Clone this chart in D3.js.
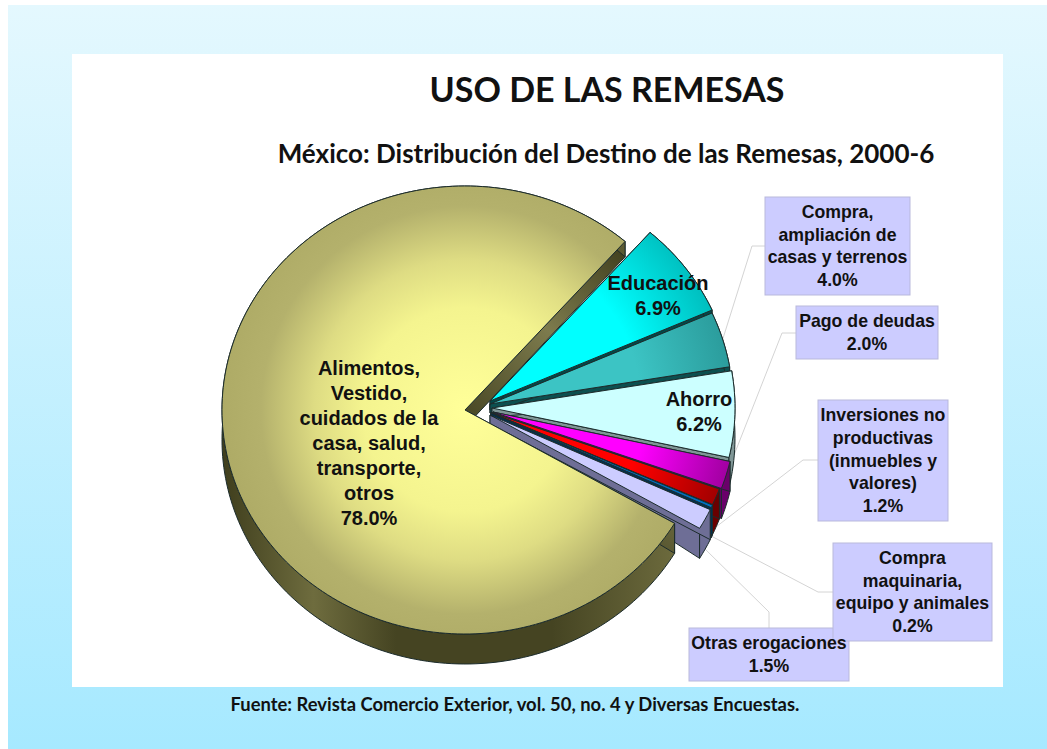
<!DOCTYPE html>
<html>
<head>
<meta charset="utf-8">
<script src="https://cdn.jsdelivr.net/npm/d3@7"></script>
<style>
  html, body { margin: 0; padding: 0; background: #fff; overflow: hidden; }
  svg { display: block; }
  text { font-family: "Liberation Sans", Arial, sans-serif; fill: #111; }
</style>
</head>
<body>
<svg id="chart" width="1047" height="749"></svg>
<script>
const title = "USO DE LAS REMESAS";
const subtitle = "México: Distribución del Destino de las Remesas, 2000-6";
const source = "Fuente: Revista Comercio Exterior, vol. 50, no. 4 y Diversas Encuestas.";

// in drawing order, clockwise from the edge of the big slice
const categories = ["Educación", "Compra, ampliación de casas y terrenos", "Ahorro", "Pago de deudas",
    "Inversiones no productivas (inmuebles y valores)", "Compra maquinaria, equipo y animales",
    "Otras erogaciones", "Alimentos, Vestido, cuidados de la casa, salud, transporte, otros"];
const values = [6.9, 4.0, 6.2, 2.0, 1.2, 0.2, 1.5, 78.0];
const valueLabels = ["6.9%", "4.0%", "6.2%", "2.0%", "1.2%", "0.2%", "1.5%", "78.0%"];
const labelLines = [
    ["Educación"],
    ["Compra,", "ampliación de", "casas y terrenos"],
    ["Ahorro"],
    ["Pago de deudas"],
    ["Inversiones no", "productivas", "(inmuebles y", "valores)"],
    ["Compra", "maquinaria,", "equipo y animales"],
    ["Otras erogaciones"],
    ["Alimentos,", "Vestido,", "cuidados de la", "casa, salud,", "transporte,", "otros"]
];

const topColors = ["#00ffff", "#3cc4c4", "#ccffff", "#ff00ff", "#ff0000", "#0070c0", "#ccccff", "#ffff99"];
const edgeColors = ["#00bcbc", "#2b9c9c", "#ccffff", "#a000a0", "#a00000", "#0070c0", "#ccccff", "#aeab66"];
const wallColors = ["#004a4a", "#0c4f4f", "#7f9696", "#6a006a", "#6a0000", "#003050", "#6e6e96", "#4d4c27"];

// where each slice's point sits once pulled out of the pie
const apexX = [490, 490, 492, 493, 491, 491, 490, 465];
const apexY = [401, 404, 408, 412, 412.5, 413, 415, 410];
const apexDepth = [9, 9, 9, 9, 9, 9, 9, 17];

const rx = 243, ry = 224;
const startDeg = 41.2;

// label boxes, text anchored in the box middle; elbow is where the leader bends
const boxes = [
    null,
    { x: 765, y: 197, w: 145, h: 98, elbow: [752, 246], end: [765, 246], depth: 0 },
    null,
    { x: 796, y: 306, w: 142, h: 53, elbow: [782, 333], end: [796, 333], depth: 0 },
    { x: 818, y: 400, w: 130, h: 121, elbow: [803, 460], end: [818, 460], depth: 1 },
    { x: 833, y: 543, w: 159, h: 98, elbow: [818, 592], end: [833, 592], depth: 1 },
    { x: 689, y: 628, w: 160, h: 53, elbow: [769, 612], end: [769, 628], depth: 1 },
    null
];
// labels printed on the slices themselves: x, y of the first line
const inside = [
    { x: 658, y: 290 }, null, { x: 699, y: 406 }, null, null, null, null, { x: 369, y: 375 }
];

const svg = d3.select("#chart");
const defs = svg.append("defs");

const bg = defs.append("linearGradient").attr("id", "bg").attr("x1", 0).attr("y1", 0).attr("x2", 0).attr("y2", 1);
bg.append("stop").attr("offset", 0).attr("stop-color", "#e4f8fe");
bg.append("stop").attr("offset", 1).attr("stop-color", "#a6e9ff");

svg.append("rect").attr("x", 8).attr("y", 5).attr("width", 1039).attr("height", 744).attr("fill", "url(#bg)");
svg.append("rect").attr("x", 72).attr("y", 54).attr("width", 931).attr("height", 633).attr("fill", "#fff");

svg.append("text").attr("x", 607).attr("y", 102).attr("text-anchor", "middle")
    .style("font-family", "Lato").style("font-weight", 700).style("font-size", "34px").text(title);
svg.append("text").attr("x", 606).attr("y", 163).attr("text-anchor", "middle")
    .style("font-family", "Lato").style("font-weight", 700).style("font-size", "26px").text(subtitle);
svg.append("text").attr("x", 515).attr("y", 711).attr("text-anchor", "middle")
    .style("font-family", "Lato").style("font-weight", 700).style("font-size", "18.4px").text(source);

const pie = d3.pie().sort(null)
    .startAngle(startDeg * Math.PI / 180)
    .endAngle((startDeg + 360) * Math.PI / 180);
const slices = pie(values).map((d, i) => ({ ...d, i }));

const sx = d3.scaleLinear().domain([-1, 1]).range([-rx, rx]);
const sy = d3.scaleLinear().domain([-1, 1]).range([ry, -ry]);

// unit radius r at angle a, clockwise from the top
function topPoint(i, a, r) {
    return [apexX[i] + sx(r * Math.sin(a)), apexY[i] + sy(r * Math.cos(a))];
}
// the wall is shallower along the back of the pie
function wallDepth(i, a, r) {
    return apexDepth[i] + r * (30 - apexDepth[i] - 19.5 * Math.max(0, Math.cos(a)));
}
function bottomPoint(i, a, r) {
    const p = topPoint(i, a, r);
    return [p[0], p[1] + wallDepth(i, a, r)];
}

const line = d3.line();
function arcAngles(d) {
    return d3.range(0, 1.0001, 1 / Math.max(4, Math.ceil((d.endAngle - d.startAngle) * 40)))
        .map(t => d.startAngle + t * (d.endAngle - d.startAngle));
}
function topShape(d) {
    return line([[apexX[d.i], apexY[d.i]], ...arcAngles(d).map(a => topPoint(d.i, a, 1))]) + "Z";
}
function wallShape(d) {
    const as = arcAngles(d);
    return line([...as.map(a => topPoint(d.i, a, 1)), ...as.slice().reverse().map(a => bottomPoint(d.i, a, 1))]) + "Z";
}
function edgeFace(d, a) {
    return line([[apexX[d.i], apexY[d.i]], topPoint(d.i, a, 1), bottomPoint(d.i, a, 1), bottomPoint(d.i, a, 0)]) + "Z";
}

// radial fill for each slice, around its own point
const bigStops = [[0, "#ffff99"], [0.42, "#f4f48f"], [0.62, "#dedc83"], [0.84, "#b4b16c"], [1, "#aeab66"]];
slices.forEach(d => {
    const g = defs.append("radialGradient").attr("id", "top" + d.i)
        .attr("gradientUnits", "userSpaceOnUse")
        .attr("cx", apexX[d.i]).attr("cy", apexY[d.i]).attr("r", rx);
    const stops = d.i === 7 ? bigStops : [[0, topColors[d.i]], [0.62, topColors[d.i]], [1, edgeColors[d.i]]];
    stops.forEach(s => g.append("stop").attr("offset", s[0]).attr("stop-color", s[1]));
});
const wallGrad = defs.append("linearGradient").attr("id", "wallBig")
    .attr("gradientUnits", "userSpaceOnUse").attr("x1", 222).attr("x2", 680).attr("y1", 0).attr("y2", 0);
[[0, "#3f3e1d"], [0.2, "#6e6c3e"], [0.38, "#454422"], [0.72, "#454422"], [1, "#6e6c3e"]].forEach(s =>
    wallGrad.append("stop").attr("offset", s[0]).attr("stop-color", s[1]));
const faceGrad = defs.append("linearGradient").attr("id", "faceBig")
    .attr("gradientUnits", "userSpaceOnUse").attr("x1", 465).attr("y1", 410).attr("x2", 623).attr("y2", 243);
[[0, "#4a4926"], [0.5, "#7d7b4d"], [1, "#3f3e1d"]].forEach(s =>
    faceGrad.append("stop").attr("offset", s[0]).attr("stop-color", s[1]));

// leader lines sit behind the pie
slices.forEach(d => {
    const b = boxes[d.i];
    if (!b) return;
    const mid = (d.startAngle + d.endAngle) / 2;
    const start = b.depth ? bottomPoint(d.i, mid, 1) : topPoint(d.i, mid, 1);
    svg.append("path").attr("d", line([start, b.elbow, b.end]))
        .attr("fill", "none").attr("stroke", "#d4d4d4").attr("stroke-width", 1);
});

const pieG = svg.append("g").attr("stroke", "#1c2c2c").attr("stroke-width", 1).attr("stroke-linejoin", "round");
slices.forEach(d => {
    const big = d.i === 7;
    const wall = big ? "url(#wallBig)" : wallColors[d.i];
    const face = big ? "url(#faceBig)" : wallColors[d.i];
    pieG.append("path").attr("d", edgeFace(d, d.endAngle)).attr("fill", face);
    pieG.append("path").attr("d", wallShape(d)).attr("fill", wall);
    pieG.append("path").attr("d", edgeFace(d, d.startAngle)).attr("fill", face);
    pieG.append("path").attr("d", topShape(d)).attr("fill", `url(#top${d.i})`);
});

// boxes first, all text after them: the text of one box runs over its neighbour
const boxOrder = [1, 3, 4, 6, 5];
boxOrder.forEach(i => {
    const b = boxes[i];
    svg.append("rect").attr("x", b.x).attr("y", b.y).attr("width", b.w).attr("height", b.h)
        .attr("fill", "#ccccff").attr("stroke", "#b9b9dc").attr("stroke-width", 1);
});

function writeLabel(i, cx, firstY, size, lineHeight) {
    [...labelLines[i], valueLabels[i]].forEach((t, n) => {
        svg.append("text").attr("x", cx).attr("y", firstY + n * lineHeight)
            .attr("text-anchor", "middle")
            .style("font-weight", 700).style("font-size", size + "px").text(t);
    });
}
boxOrder.forEach(i => {
    const b = boxes[i];
    const n = labelLines[i].length + 1;
    writeLabel(i, b.x + b.w / 2, b.y + b.h / 2 - (n - 1) * 22.6 / 2 + 6, 17.7, 22.6);
});
inside.forEach((p, i) => { if (p) writeLabel(i, p.x, p.y, 20, 25); });
</script>
</body>
</html>
